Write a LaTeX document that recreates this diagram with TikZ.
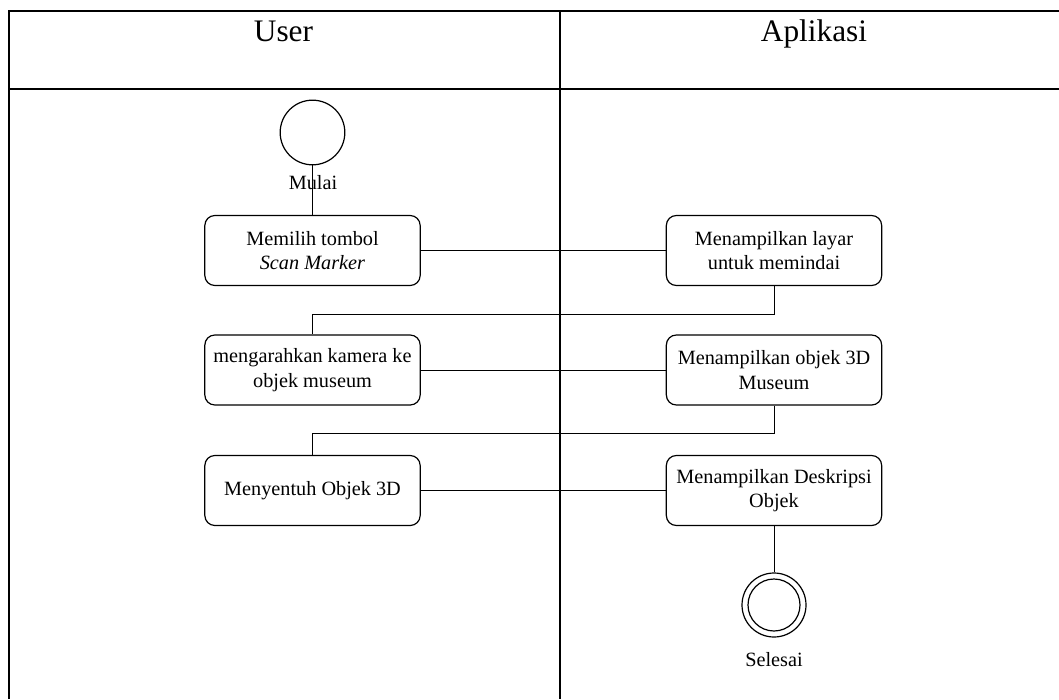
\documentclass[tikz,border=0pt]{standalone}
\usepackage{fontspec}
\setmainfont{Liberation Serif}
\tikzset{
  lane/.style={line width=1.6pt},
  act/.style={draw, line width=0.9pt, rounded corners=7.5pt, align=center,
    minimum width=161.5pt, minimum height=52.5pt, inner sep=2pt,
    font=\fontsize{15.2}{18.5}\selectfont},
  flow/.style={line width=0.75pt},
  startnode/.style={draw, circle, line width=0.9pt, minimum size=48.5pt, inner sep=0pt},
  endnode/.style={draw, circle, line width=0.9pt, minimum size=48pt, inner sep=0pt},
  lbl/.style={font=\fontsize{15.2}{18.5}\selectfont, inner sep=0pt},
  head/.style={font=\fontsize{23.5}{26}\selectfont, inner sep=0pt, anchor=base}
}
\begin{document}
\begin{tikzpicture}[x=0.75pt,y=-0.75pt]
\useasboundingbox (0,0) rectangle (1059,699);

% swimlane frame
\draw[lane] (9,699) -- (9,11) -- (1059,11);
\draw[lane] (9,89) -- (1059,89);
\draw[lane] (560,11) -- (560,699);
\node[head] (hUser) at (283.5,42) {User};
\node[head] (hApp) at (814,42) {Aplikasi};

% activities
\node[startnode] (start) at (312.5,132.5) {};
\node[act] (b1) at (312.5,250.5) {Memilih tombol\\\textit{Scan Marker}};
\node[act] (r1) at (774,250.5) {Menampilkan layar\\untuk memindai};
\node[act] (b2) at (312.5,370) {mengarahkan kamera ke\\objek museum};
\node[act] (r2) at (774,370) {Menampilkan objek 3D\\Museum};
\node[act] (b3) at (312.5,490.5) {Menyentuh Objek 3D};
\node[act] (r3) at (774,490.5) {Menampilkan Deskripsi\\Objek};
\node[endnode] (stop) at (774,605) {};
\draw[line width=0.9pt] (stop.center) circle (19.5pt);

% transitions
\draw[flow] (start.south) -- (b1.north);
\node[lbl] (mulai) at (313,183) {Mulai};
\draw[flow] (b1.east) -- (r1.west);
\draw[flow] (r1.south) -- ++(0,28) -| (b2.north);
\draw[flow] (b2.east) -- (r2.west);
\draw[flow] (r2.south) -- ++(0,28) -| (b3.north);
\draw[flow] (b3.east) -- (r3.west);
\draw[flow] (r3.south) -- (stop.north);
\node[lbl] (selesai) at (774,660) {Selesai};
\end{tikzpicture}
\end{document}
